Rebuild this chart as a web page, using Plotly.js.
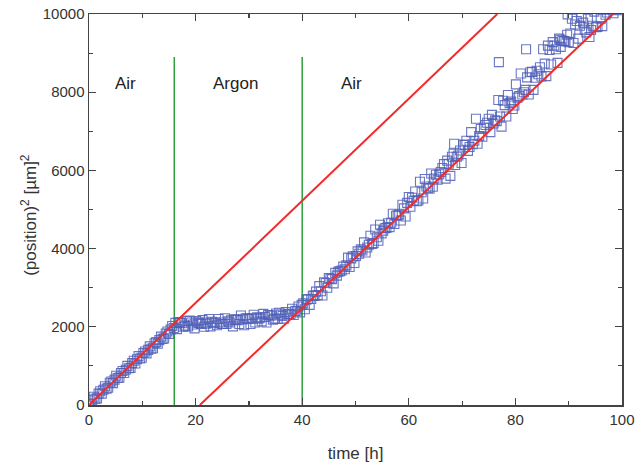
<!DOCTYPE html>
<html>
<head>
<meta charset="utf-8">
<script src="https://cdn.plot.ly/plotly-3.0.1.min.js"></script>
<style>html,body{margin:0;padding:0;background:#fff;}#chart{width:635px;height:465px;}</style>
</head>
<body>
<div id="chart"></div>
<script>
// ---- Data ----
// Air phase 1
const tAir1 = [0,0.3,0.6,0.9,1.2,1.5,1.8,2.1,2.4,2.7,3,3.3,3.6,3.9,4.2,4.5,4.8,5.1,5.4,5.7,6,6.3,6.6,6.9,7.2,7.5,7.8,8.1,8.4,8.7,9,9.3,9.6,9.9,10.2,10.5,10.8,11.1,11.4,11.7,12,12.3,12.6,12.9,13.2,13.5,13.8,14.1,14.4,14.7,15,15.3,15.6,15.9];
const pAir1 = [40,20,120,210,160,170,290,350,290,390,480,420,440,570,600,560,650,750,690,700,820,870,820,900,1000,940,950,1070,1130,1060,1170,1250,1190,1210,1330,1370,1320,1410,1500,1440,1450,1580,1610,1570,1660,1750,1690,1700,1830,1880,1820,1930,2020,1970];
// Argon phase
const tArgon = [16.2,16.5,16.8,17.1,17.4,17.7,18,18.3,18.6,18.9,19.2,19.5,19.8,20.1,20.4,20.7,21,21.3,21.6,21.9,22.2,22.5,22.8,23.1,23.4,23.7,24,24.3,24.6,24.9,25.2,25.5,25.8,26.1,26.4,26.7,27,27.3,27.6,27.9,28.2,28.5,28.8,29.1,29.4,29.7,30,30.3,30.6,30.9,31.2,31.5,31.8,32.1,32.4,32.7,33,33.3,33.6,33.9,34.2,34.5,34.8,35.1,35.4,35.7,36,36.3,36.6,36.9,37.2,37.5,37.8,38.1,38.4,38.7,39,39.3,39.6,39.9];
const pArgon = [2100,1940,2120,2100,2090,2000,2030,2150,2010,2160,2110,2060,1960,2150,2110,2100,2070,2170,2000,2080,2110,2200,2010,2130,2090,2110,2040,2200,2110,2070,2070,2220,2070,2140,2110,2180,2010,2190,2180,2170,2070,2290,2190,2040,2220,2210,2200,2070,2220,2310,2110,2240,2210,2230,2140,2330,2250,2110,2300,2290,2290,2180,2210,2340,2200,2360,2310,2280,2210,2380,2320,2330,2320,2460,2300,2400,2410,2520,2370,2560];
// Air phase 2
const tAir2 = [40.2,40.5,40.8,41.1,41.4,41.7,42,42.3,42.6,42.9,43.2,43.5,43.8,44.1,44.4,44.7,45,45.3,45.6,45.9,46.2,46.5,46.8,47.1,47.4,47.7,48,48.3,48.6,48.9,49.2,49.5,49.8,
50.1,50.4,50.7,51,51.3,51.6,51.9,52.2,52.5,52.8,53.1,53.4,53.7,54,54.3,54.6,54.9,55.2,55.5,55.8,56.1,56.4,56.7,57,57.3,57.6,57.9,58.2,58.5,58.8,59.1,59.4,59.7,
60,60.3,60.6,60.9,61.2,61.5,61.8,62.1,62.4,62.7,63,63.3,63.6,63.9,64.2,64.5,64.8,65.1,65.4,65.7,66,66.3,66.6,66.9,67.2,67.5,67.8,68.1,68.4,68.7,69,69.3,69.6,69.9,
70.2,70.5,70.8,71.1,71.4,71.7,72,72.3,72.6,72.9,73.2,73.5,73.8,74.1,74.4,74.7,75,75.3,75.6,75.9,76.2,76.5,76.8,77.1,77.4,77.7,78,78.3,78.6,78.9,79.2,79.5,79.8,
80.1,80.4,80.7,81,81.3,81.6,81.9,82.2,82.5,82.8,83.1,83.4,83.7,84,84.3,84.6,84.9,85.2,85.5,85.8,86.1,86.4,86.7,87,87.3,87.6,87.9,88.2,88.5,88.8,89.1,89.4,89.7,
90,90.3,90.6,90.9,91.2,91.5,91.8,92.1,92.4,92.7,93,93.3,93.6,93.9,94.2,94.5,94.8,95.1,95.4,95.7,96,96.3,96.6,96.9,97.2,97.5,97.8,98.1,98.4,98.7,99,99.3];
const pAir2 = [2600,2450,2690,2710,2560,2710,2800,2790,2900,2810,3040,2910,2800,3140,3120,3000,3250,3230,3220,3110,3380,3310,3410,3420,3440,3540,3470,3570,3770,3530,3750,3800,3630,
3810,3930,3870,3980,3950,4160,3900,4030,4100,4330,4120,4140,4490,4290,4200,4610,4390,4460,4520,4530,4650,4550,4660,4890,4630,4840,4850,4870,4720,5120,5030,4820,5170,
5320,5070,5300,5220,5460,5210,5230,5710,5440,5280,5780,5590,5550,5530,5920,5580,5790,5890,5760,5900,5960,6060,6160,5790,6250,6170,5860,6350,6430,6140,6350,6380,6510,6190,
6660,6650,6760,6500,6600,6980,6670,6760,7320,6680,6880,7060,6860,7090,7160,7220,7320,6980,7420,7200,7280,7260,7800,7380,7120,7780,7670,7380,7930,7720,7760,7570,7660,
8200,7860,7900,8480,7940,8000,8060,8380,7940,8510,8520,8060,8370,8550,8460,8640,8400,9100,8730,8410,9190,9080,8710,9280,9190,9100,8750,9370,9160,9320,9310,9300,9470,
9280,9500,9880,9260,9730,9820,9370,9700,9900,9780,9600,9530,9880,9410,9590,9700,10060,9660,9670,10240,9880,9690,10370,9980,10040,10120,10110,10150,10020,10250,10100,10300];
// Isolated outlying points
const tOut = [68.5,76.9,82.0,88.4,89.8];
const pOut = [6680,8770,9100,9340,9990];

// Linear fits (red)
const fit1T = [0,76.6];
const fit1P = [0,10000];
const fit2T = [20.8,98.3];
const fit2P = [0,10000];
// Phase boundaries (green)
const switchTimes = [16,40];
const switchTop = 8900;
// Phase labels
const phaseLabels = ['Air','Argon','Air'];
const phaseLabelT = [6.8,27.4,49.3];
const phaseLabelP = 8210;

const allT = tAir1.concat(tArgon, tAir2, tOut);
const allP = pAir1.concat(pArgon, pAir2, pOut);

const traces = [];
switchTimes.forEach(s => traces.push({
  x:[s,s], y:[0,switchTop], mode:'lines', type:'scatter',
  line:{color:'#2e9e3e', width:1.5}, hoverinfo:'skip', showlegend:false
}));
traces.push({
  x: allT, y: allP, mode:'markers', type:'scatter', showlegend:false,
  marker:{symbol:'square-open', size:9, color:'rgba(80,95,185,0.85)', line:{width:1.1}}
});
traces.push({x:fit1T, y:fit1P, mode:'lines', type:'scatter', showlegend:false, line:{color:'#f22a2a', width:2}});
traces.push({x:fit2T, y:fit2P, mode:'lines', type:'scatter', showlegend:false, line:{color:'#f22a2a', width:2}});

const axisCommon = {
  showgrid:false, zeroline:false, showline:true, linecolor:'#444', linewidth:1.5,
  mirror:'ticks', ticks:'inside', ticklen:7, tickwidth:1.3, tickcolor:'#444',
  tickfont:{size:15, color:'#333'}, tickformat:'d'
};

const annots = phaseLabels.map((txt,i) => ({
  x: phaseLabelT[i], y: phaseLabelP, text: txt, showarrow:false,
  font:{size:17, color:'#222'}, xanchor:'center', yanchor:'middle'
}));
// y-axis title drawn as a rotated annotation for exact placement
annots.push({
  xref:'paper', yref:'paper', x:-0.114, y:0.487, text:'(position)<sup>2</sup> [µm]<sup>2</sup>',
  textangle:-90, showarrow:false, xanchor:'center', yanchor:'middle',
  font:{size:17, color:'#333'}
});

const layout = {
  width:635, height:465,
  margin:{l:89, r:13, t:14, b:60},
  paper_bgcolor:'#fff', plot_bgcolor:'#fff',
  font:{family:'"Liberation Sans", Arial, sans-serif', color:'#333'},
  xaxis: Object.assign({}, axisCommon, {
    range:[0,100], dtick:20, tick0:0,
    minor:{ticks:'inside', ticklen:4, dtick:10, tickcolor:'#444', tickwidth:1.2},
    title:{text:'time [h]', font:{size:17, color:'#333'}, standoff:20}
  }),
  yaxis: Object.assign({}, axisCommon, {
    range:[0,10000], dtick:2000, tick0:0,
    minor:{ticks:'inside', ticklen:4, dtick:1000, tickcolor:'#444', tickwidth:1.2}
  }),
  annotations: annots
};

Plotly.newPlot('chart', traces, layout, {displayModeBar:false, staticPlot:true});
</script>
</body>
</html>
